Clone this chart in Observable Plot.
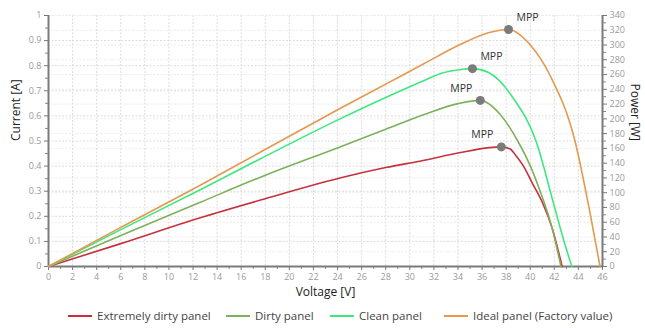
<!DOCTYPE html>
<html>
<head>
<meta charset="utf-8">
<script src="https://cdn.jsdelivr.net/npm/d3@7"></script>
<script src="https://cdn.jsdelivr.net/npm/@observablehq/plot@0.6"></script>
<style>
  body { margin: 0; background: #fff; font-family: "Open Sans", "Noto Sans", sans-serif; }
  #wrap { width: 645px; }
  #legend { position: relative; height: 28px; width: 645px; font-size: 11.5px; color: #444; }
  .item { position: absolute; top: 8px; display: flex; align-items: center; white-space: nowrap; }
  .sw { width: 24px; height: 2px; margin-right: 5px; }
</style>
</head>
<body>
<div id="wrap"></div>
<script>
// Series names and colours
const seriesNames = ["Extremely dirty panel", "Dirty panel", "Clean panel", "Ideal panel (Factory value)"];
const seriesColors = ["#c7313f", "#7fb05b", "#3ee77f", "#e3994e"];

// Voltage [V] / Power [W] points
const extDirtyV = [0, 6, 12.6, 17.6, 24.2, 28, 31.2, 34.1, 36.6, 37.6, 38.3, 38.8, 39.4, 40.2, 41.0, 41.8, 42.65];
const extDirtyP = [0, 31, 66, 90, 120, 134, 144, 154, 161, 162, 159.5, 150.5, 137, 112, 87, 53, 0];

const dirtyV = [0, 6, 12.6, 17.6, 24.2, 28, 31.2, 34.1, 35.85, 37.45, 39.0, 39.9, 40.8, 41.8, 42.55];
const dirtyP = [0, 42, 87, 121, 162, 186, 206, 221, 225, 207, 169, 140, 103, 53, 0];

const cleanV = [0, 6, 12.6, 17.6, 24.2, 28, 31.2, 32.7, 34.1, 35.2, 36.5, 38.55, 40.5, 41.87, 42.7, 43.45];
const cleanP = [0, 50, 104, 146, 200, 229, 252, 262, 266.5, 268, 263, 229, 169, 89.5, 40, 0];

const idealV = [0, 6, 12.6, 17.6, 24.2, 28, 31.2, 34.1, 36.6, 38.2, 39.9, 41.7, 43.7, 44.9, 45.8];
const idealP = [0, 53, 110, 155, 214, 247, 275, 300, 317, 321, 302, 257, 171, 78, 0];

// Maximum power points
const mppV = [37.6, 35.85, 35.2, 38.2];
const mppP = [162, 225, 268, 321];
const mppLabel = ["MPP", "MPP", "MPP", "MPP"];

// Axis ticks
const xTicks = d3.range(0, 47, 2);
const currentTicks = d3.range(0, 11).map(i => i / 10);
const powerTicks = d3.range(0, 341, 20);
const PMAX = 340;

const seriesV = [extDirtyV, dirtyV, cleanV, idealV];
const seriesP = [extDirtyP, dirtyP, cleanP, idealP];
const lineData = seriesNames.flatMap((name, s) => seriesV[s].map((v, i) => ({name, v, p: seriesP[s][i]})));
const mppData = mppV.map((v, i) => ({v, p: mppP[i], label: mppLabel[i], idx: i}));

const blank = () => "";
const svgH = 300;
const chart = Plot.plot({
  width: 645,
  height: svgH,
  marginLeft: 48,
  marginRight: 43,
  marginTop: 15,
  marginBottom: svgH - 266,
  style: { fontFamily: '"Open Sans", "Noto Sans", sans-serif', background: "#fff" },
  x: { domain: [0, 46] },
  y: { domain: [0, 1] },
  color: { domain: seriesNames, range: seriesColors },
  marks: [
    Plot.gridX(xTicks, { stroke: "#dcdcdc", strokeOpacity: 1, strokeDasharray: "2,1.5" }),
    Plot.gridY(currentTicks, { stroke: "#dcdcdc", strokeOpacity: 1, strokeDasharray: "2,1.5" }),
    Plot.gridY(powerTicks.map(d => d / PMAX), { stroke: "#ececec", strokeOpacity: 1, strokeDasharray: "2,1.5" }),
    // left axis
    Plot.axisY(currentTicks, { anchor: "left", tickSize: 4, color: "#777", tickFormat: blank, label: null }),
    Plot.axisY(d3.range(0, 10).map(i => i / 10 + 0.05), { anchor: "left", tickSize: 3, color: "#888", tickFormat: blank, label: null }),
    Plot.axisY(currentTicks, { anchor: "left", tickSize: 0, tickPadding: 7, color: "#9a9a9a", fontSize: 9, label: null,
      tickFormat: d => d === 0 ? "0" : d === 1 ? "1" : d.toFixed(1) }),
    // right axis
    Plot.axisY(powerTicks.map(d => d / PMAX), { anchor: "right", tickSize: 4, color: "#777", tickFormat: blank, label: null }),
    Plot.axisY(d3.range(10, 340, 20).map(d => d / PMAX), { anchor: "right", tickSize: 3, color: "#888", tickFormat: blank, label: null }),
    Plot.axisY(powerTicks.map(d => d / PMAX), { anchor: "right", tickSize: 0, tickPadding: 7, color: "#9a9a9a", fontSize: 9, label: null,
      tickFormat: d => String(Math.round(d * PMAX)) }),
    // bottom axis
    Plot.axisX(xTicks, { anchor: "bottom", tickSize: 4, color: "#777", tickFormat: blank, label: null }),
    Plot.axisX(d3.range(1, 46, 2), { anchor: "bottom", tickSize: 3, color: "#888", tickFormat: blank, label: null }),
    Plot.axisX(xTicks, { anchor: "bottom", tickSize: 0, tickPadding: 7, color: "#9a9a9a", fontSize: 9, label: null }),
    // axis lines
    Plot.ruleX([0, 46], { stroke: "#7a7a7a", strokeWidth: 2 }),
    Plot.ruleY([0], { stroke: "#7a7a7a", strokeWidth: 2 }),
    // curves
    Plot.line(lineData, { x: "v", y: d => d.p / PMAX, z: "name", stroke: "name", strokeWidth: 1.6, curve: "monotone-x" }),
    // MPP points
    Plot.dot(mppData, { x: "v", y: d => d.p / PMAX, r: 4.5, fill: "#7b7b7b", stroke: "none" }),
    Plot.text(mppData.filter(d => d.idx < 2), { x: "v", y: d => d.p / PMAX, text: "label", fill: "#333", fontSize: 10.5, dx: -19, dy: -12 }),
    Plot.text(mppData.filter(d => d.idx >= 2), { x: "v", y: d => d.p / PMAX, text: "label", fill: "#333", fontSize: 10.5, dx: 19, dy: -12 }),
    // axis titles
    Plot.text(["Current [A]"], { frameAnchor: "left", dx: -32, rotate: -90, fontSize: 12, fill: "#222" }),
    Plot.text(["Power [W]"], { frameAnchor: "right", dx: 32, rotate: 90, fontSize: 12, fill: "#222" }),
    Plot.text(["Voltage [V]"], { frameAnchor: "bottom", dy: 29, fontSize: 12, fill: "#222" })
  ]
});
document.getElementById("wrap").appendChild(chart);

// legend
const legend = document.createElement("div");
legend.id = "legend";
const lefts = [68, 226, 330, 444];
seriesNames.forEach((name, i) => {
  const it = document.createElement("div");
  it.className = "item";
  it.style.left = lefts[i] + "px";
  const sw = document.createElement("span");
  sw.className = "sw";
  sw.style.background = seriesColors[i];
  const tx = document.createElement("span");
  tx.textContent = name;
  it.appendChild(sw);
  it.appendChild(tx);
  legend.appendChild(it);
});
document.getElementById("wrap").appendChild(legend);
</script>
</body>
</html>
